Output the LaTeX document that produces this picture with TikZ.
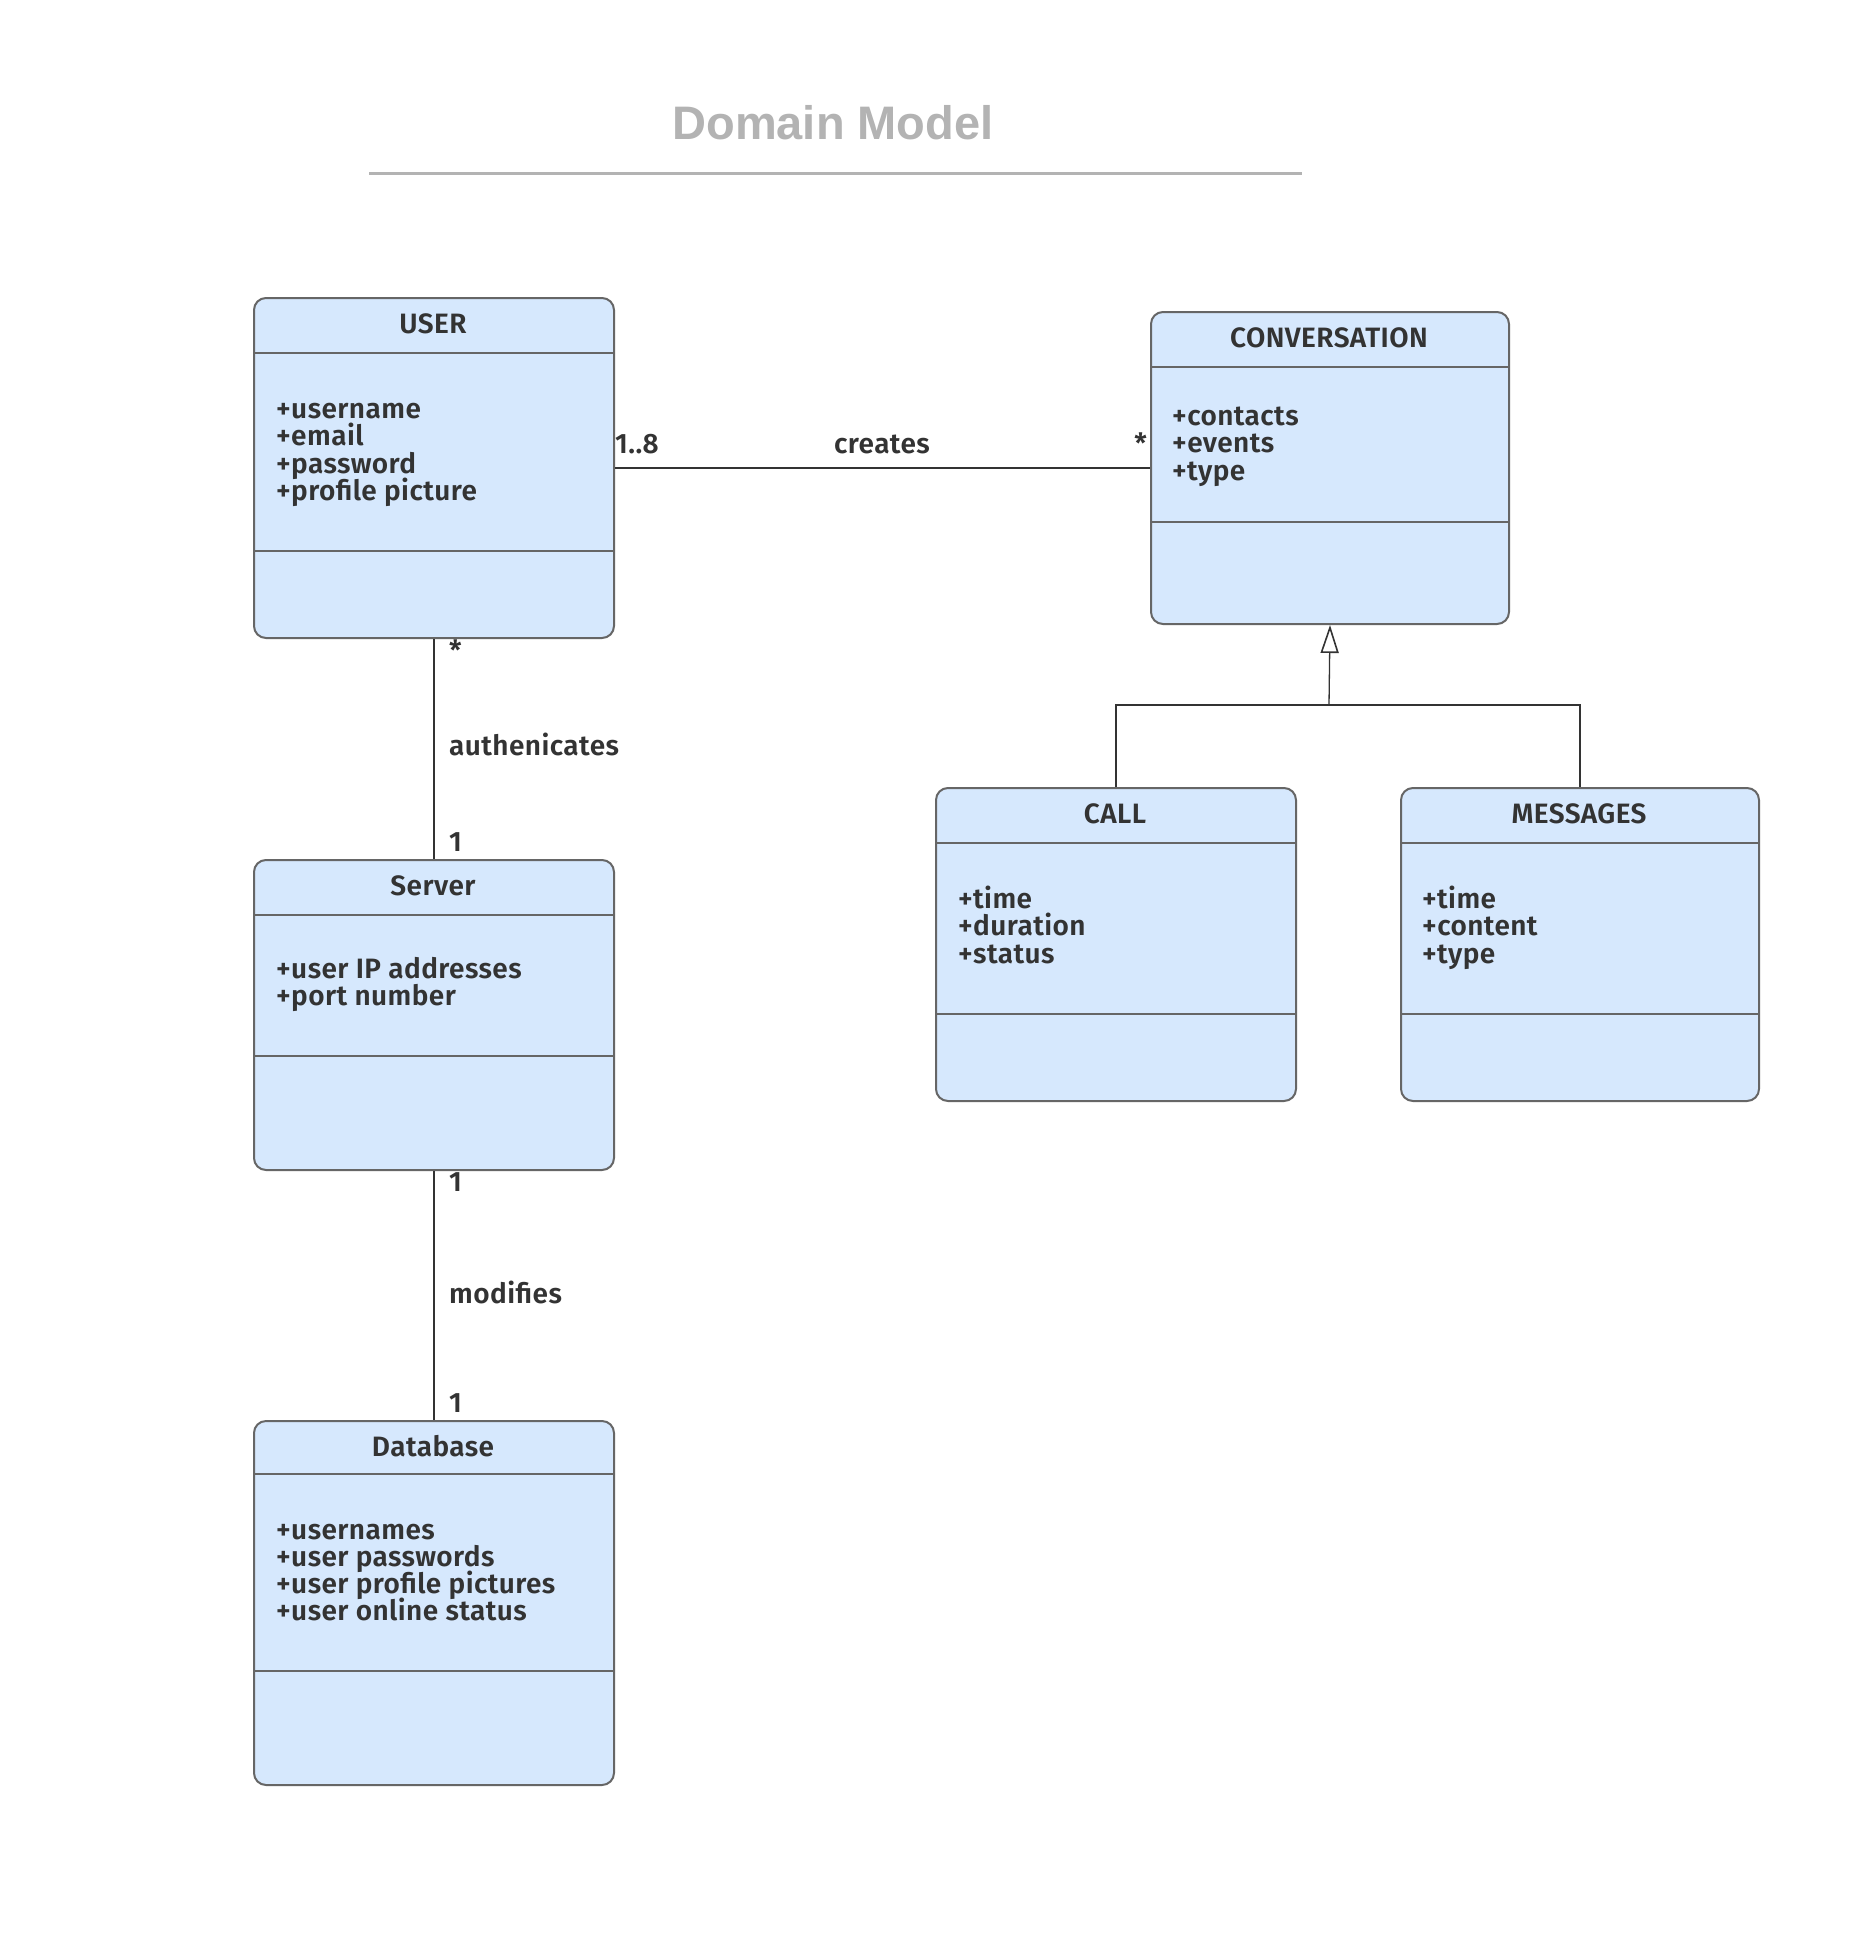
\documentclass[tikz,border=0pt]{standalone}
\usepackage{fontspec}
\setmainfont{Fira Sans SemiBold}[LetterSpace=1.5]
\newfontfamily\titlefont{Liberation Sans}
\usetikzlibrary{arrows.meta}
\definecolor{boxfill}{HTML}{D6E8FD}
\definecolor{boxline}{HTML}{666666}
\definecolor{ink}{HTML}{333333}
\definecolor{titlegray}{HTML}{B3B3B3}
\tikzset{
  txt/.style={inner sep=0pt, text=ink, font=\fontsize{28}{30}\selectfont},
  cls/.style={draw=boxline, line width=2pt, fill=boxfill, rounded corners=12pt, anchor=north west, inner sep=0pt},
  divider/.style={draw=boxline, line width=1.5pt},
  ctitle/.style={txt, anchor=base},
  attr/.style={txt, anchor=base west},
  lbl/.style={txt, anchor=base west},
  conn/.style={draw=ink, line width=1.6pt},
}
\begin{document}
\begin{tikzpicture}[x=1pt, y=-1pt]
\useasboundingbox[fill=white] (0,0) rectangle (1873,1945);

% title
\node[anchor=base, inner sep=0pt, text=titlegray, font=\titlefont\bfseries\fontsize{47}{52}\selectfont] (title) at (833,140) {Domain Model};
\draw[draw=titlegray, line width=3pt] (369,174) -- (1302,174);

% USER
\node[cls, minimum width=360pt, minimum height=340pt] (user) at (253,297) {};
\draw[divider] (253,353) -- (613,353);
\draw[divider] (253,551) -- (613,551);
\node[ctitle] (userT) at (433,333) {USER};
\foreach \t [count=\i] in {+username,+email,+password,+profile picture}
  \node[attr] (userA\i) at (276,{418+27.5*(\i-1)}) {\t};

% CONVERSATION
\node[cls, minimum width=358pt, minimum height=312pt] (conv) at (1150,311) {};
\draw[divider] (1150,367) -- (1508,367);
\draw[divider] (1150,522) -- (1508,522);
\node[ctitle] (convT) at (1329,347) {CONVERSATION};
\foreach \t [count=\i] in {+contacts,+events,+type}
  \node[attr] (convA\i) at (1172,{425+27.5*(\i-1)}) {\t};

% CALL
\node[cls, minimum width=360pt, minimum height=313pt] (call) at (935,787) {};
\draw[divider] (935,843) -- (1295,843);
\draw[divider] (935,1014) -- (1295,1014);
\node[ctitle] (callT) at (1115,823) {CALL};
\foreach \t [count=\i] in {+time,+duration,+status}
  \node[attr] (callA\i) at (958,{908+27.5*(\i-1)}) {\t};

% MESSAGES
\node[cls, minimum width=358pt, minimum height=313pt] (msg) at (1400,787) {};
\draw[divider] (1400,843) -- (1758,843);
\draw[divider] (1400,1014) -- (1758,1014);
\node[ctitle] (msgT) at (1579,823) {MESSAGES};
\foreach \t [count=\i] in {+time,+content,+type}
  \node[attr] (msgA\i) at (1422,{908+27.5*(\i-1)}) {\t};

% Server
\node[cls, minimum width=360pt, minimum height=310pt] (server) at (253,859) {};
\draw[divider] (253,915) -- (613,915);
\draw[divider] (253,1056) -- (613,1056);
\node[ctitle] (serverT) at (433,895) {Server};
\foreach \t [count=\i] in {+user IP addresses,+port number}
  \node[attr] (serverA\i) at (276,{978+27.5*(\i-1)}) {\t};

% Database
\node[cls, minimum width=360pt, minimum height=364pt] (db) at (253,1420) {};
\draw[divider] (253,1474) -- (613,1474);
\draw[divider] (253,1671) -- (613,1671);
\node[ctitle] (dbT) at (433,1456) {Database};
\foreach \t [count=\i] in {+usernames,+user passwords,+user profile pictures,+user online status}
  \node[attr] (dbA\i) at (276,{1539+27.3*(\i-1)}) {\t};

% connectors
\draw[conn] (user.east) -- (conv.west);
\draw[conn] (user.south) -- (server.north);
\draw[conn] (server.south) -- (db.north);
\coordinate (gj) at (1329,705);
\draw[conn, line width=1.3pt] (call.north) |- (gj) -| (msg.north);
\draw[conn, line width=1.3pt, -{Triangle[open, length=28pt, width=18pt, line width=1.6pt]}] (gj) -- (conv.south);

% labels
\node[lbl] (m18) at (615,453) {1..8};
\node[lbl, anchor=base] (creates) at (882,453) {creates};
\node[lbl, anchor=base east] (mstar1) at (1147,453) {*};
\node[lbl] (mstar2) at (449,660) {*};
\node[lbl] (auth) at (449,755) {authenicates};
\node[lbl] (m1a) at (449,851) {1};
\node[lbl] (m1b) at (449,1191) {1};
\node[lbl] (modif) at (449,1303) {modifies};
\node[lbl] (m1c) at (449,1412) {1};
\end{tikzpicture}
\end{document}
